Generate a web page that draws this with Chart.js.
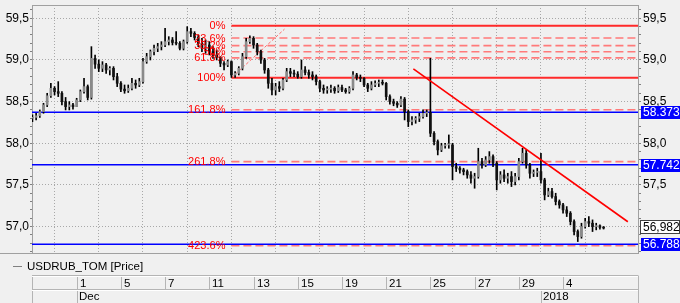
<!DOCTYPE html>
<html>
<head>
<meta charset="utf-8">
<title>USDRUB_TOM</title>
<script src="https://cdn.jsdelivr.net/npm/chart.js@4.4.1/dist/chart.umd.min.js"></script>
<style>
  html, body { margin: 0; padding: 0; background: #f0f0f0; }
  canvas { display: block; }
</style>
</head>
<body>
<canvas id="priceChart" width="680" height="303"></canvas>
<script>
// trading sessions on the chart, 29 Nov 2017 .. 5 Jan 2018 (6 bars each)
const sessions = ['29','30','1','4','5','6','7','8','11','12','13','14','15','18','19','20','21','22','25','26','27','28','29','3','4','5'];
const firstSession = -2; // 29 Nov, counted from 1 Dec
const barsPerSession = 6;

const opens = [
  58.30, 58.31, 58.33, 58.38, 58.46, 58.57,
  58.66, 58.62, 58.60, 58.50, 58.44, 58.46,
  58.44, 58.52, 58.62, 58.68, 58.55, 59.02,
  58.95, 58.90, 58.94, 58.88, 58.90, 58.80,
  58.72, 58.65, 58.63, 58.66, 58.72, 58.70,
  58.74, 58.98, 59.04, 59.10, 59.14, 59.16,
  59.18, 59.22, 59.24, 59.21, 59.20, 59.14,
  59.22, 59.34, 59.32, 59.27, 59.20, 59.14,
  59.18, 59.10, 59.06, 59.03, 58.96, 58.94,
  58.98, 58.82, 58.84, 58.90, 59.04, 59.22,
  59.26, 59.18, 59.10, 59.00, 58.88, 58.72,
  58.64, 58.68, 58.66, 58.76, 58.86, 58.84,
  58.83, 58.80, 58.88, 58.85, 58.82, 58.80,
  58.74, 58.66, 58.64, 58.65, 58.66, 58.63,
  58.67, 58.64, 58.62, 58.66, 58.82, 58.79,
  58.78, 58.70, 58.66, 58.70, 58.72, 58.73,
  58.72, 58.56, 58.50, 58.48, 58.46, 58.53,
  58.38, 58.26, 58.28, 58.30, 58.32, 58.36,
  58.37, 58.12, 58.02, 57.92, 57.97, 57.98,
  57.98, 57.72, 57.70, 57.68, 57.66, 57.62,
  57.58, 57.60, 57.78, 57.74, 57.80, 57.84,
  57.76, 57.56, 57.62, 57.58, 57.60, 57.54,
  57.60, 57.78, 57.88, 57.74, 57.64, 57.65,
  57.66, 57.56, 57.38, 57.42, 57.36, 57.30,
  57.26, 57.20, 57.16, 57.06, 56.94, 56.88,
  57.00, 57.06, 57.04, 57.00, 57.01, 56.99
];
const highs = [
  58.34, 58.36, 58.40, 58.48, 58.60, 58.72,
  58.68, 58.74, 58.62, 58.55, 58.50, 58.48,
  58.54, 58.64, 58.78, 58.70, 59.16, 59.06,
  59.00, 58.98, 58.96, 58.92, 58.92, 58.84,
  58.74, 58.70, 58.70, 58.78, 58.76, 58.78,
  59.02, 59.08, 59.12, 59.18, 59.20, 59.22,
  59.38, 59.28, 59.27, 59.34, 59.22, 59.24,
  59.40, 59.38, 59.34, 59.30, 59.26, 59.24,
  59.22, 59.16, 59.12, 59.04, 58.98, 59.00,
  58.99, 58.86, 58.92, 59.08, 59.26, 59.29,
  59.28, 59.20, 59.12, 59.02, 58.90, 58.78,
  58.72, 58.74, 58.78, 58.90, 58.90, 58.88,
  58.86, 59.00, 58.92, 58.88, 58.86, 58.82,
  58.76, 58.70, 58.68, 58.70, 58.68, 58.70,
  58.70, 58.66, 58.68, 58.86, 58.84, 58.82,
  58.79, 58.72, 58.74, 58.75, 58.76, 58.76,
  58.73, 58.58, 58.53, 58.50, 58.56, 58.55,
  58.40, 58.32, 58.32, 58.36, 58.40, 58.40,
  59.02, 58.14, 58.04, 58.00, 58.00, 58.10,
  58.00, 57.76, 57.72, 57.70, 57.68, 57.66,
  57.64, 57.94, 57.82, 57.84, 57.90, 57.86,
  57.78, 57.66, 57.68, 57.64, 57.66, 57.64,
  57.82, 57.94, 57.92, 57.76, 57.68, 57.70,
  57.88, 57.58, 57.46, 57.46, 57.40, 57.32,
  57.28, 57.24, 57.18, 57.08, 56.96, 57.04,
  57.10, 57.12, 57.08, 57.04, 57.02, 57.00
];
const lows = [
  58.26, 58.28, 58.31, 58.36, 58.44, 58.55,
  58.58, 58.56, 58.46, 58.40, 58.40, 58.41,
  58.44, 58.50, 58.60, 58.52, 58.53, 58.90,
  58.86, 58.86, 58.84, 58.82, 58.76, 58.68,
  58.62, 58.60, 58.61, 58.64, 58.66, 58.68,
  58.72, 58.96, 59.00, 59.06, 59.10, 59.12,
  59.16, 59.18, 59.18, 59.18, 59.12, 59.12,
  59.20, 59.28, 59.24, 59.16, 59.10, 59.08,
  59.06, 59.02, 59.00, 58.92, 58.88, 58.92,
  58.79, 58.79, 58.82, 58.88, 59.02, 59.20,
  59.14, 59.06, 58.96, 58.84, 58.66, 58.58,
  58.58, 58.62, 58.64, 58.74, 58.80, 58.80,
  58.78, 58.78, 58.82, 58.78, 58.76, 58.70,
  58.62, 58.60, 58.60, 58.61, 58.60, 58.61,
  58.62, 58.60, 58.60, 58.64, 58.76, 58.74,
  58.68, 58.62, 58.64, 58.68, 58.68, 58.70,
  58.52, 58.47, 58.45, 58.43, 58.44, 58.28,
  58.20, 58.22, 58.24, 58.26, 58.30, 58.32,
  58.08, 57.98, 57.86, 57.90, 57.94, 57.94,
  57.56, 57.66, 57.64, 57.62, 57.58, 57.52,
  57.46, 57.58, 57.70, 57.72, 57.76, 57.72,
  57.44, 57.52, 57.54, 57.52, 57.48, 57.50,
  57.56, 57.76, 57.70, 57.58, 57.60, 57.60,
  57.52, 57.32, 57.36, 57.34, 57.26, 57.22,
  57.16, 57.12, 57.02, 56.90, 56.82, 56.86,
  56.98, 57.00, 56.94, 56.96, 56.97, 56.97
];
const closes = [
  58.31, 58.33, 58.38, 58.46, 58.57, 58.66,
  58.62, 58.60, 58.50, 58.44, 58.46, 58.44,
  58.52, 58.62, 58.68, 58.55, 59.02, 58.95,
  58.90, 58.94, 58.88, 58.90, 58.80, 58.72,
  58.65, 58.63, 58.66, 58.72, 58.70, 58.74,
  58.98, 59.04, 59.10, 59.14, 59.16, 59.18,
  59.22, 59.24, 59.21, 59.20, 59.14, 59.22,
  59.34, 59.32, 59.27, 59.20, 59.14, 59.18,
  59.10, 59.06, 59.03, 58.96, 58.94, 58.98,
  58.82, 58.84, 58.90, 59.04, 59.22, 59.26,
  59.18, 59.10, 59.00, 58.88, 58.72, 58.64,
  58.68, 58.66, 58.76, 58.86, 58.84, 58.83,
  58.80, 58.88, 58.85, 58.82, 58.80, 58.74,
  58.66, 58.64, 58.65, 58.66, 58.63, 58.67,
  58.64, 58.62, 58.66, 58.82, 58.79, 58.78,
  58.70, 58.66, 58.70, 58.72, 58.73, 58.72,
  58.56, 58.50, 58.48, 58.46, 58.53, 58.38,
  58.26, 58.28, 58.30, 58.32, 58.36, 58.37,
  58.12, 58.02, 57.92, 57.97, 57.98, 57.98,
  57.72, 57.70, 57.68, 57.66, 57.62, 57.58,
  57.60, 57.78, 57.74, 57.80, 57.84, 57.76,
  57.56, 57.62, 57.58, 57.60, 57.54, 57.60,
  57.78, 57.88, 57.74, 57.64, 57.65, 57.66,
  57.56, 57.38, 57.42, 57.36, 57.30, 57.26,
  57.20, 57.16, 57.06, 56.94, 56.88, 57.00,
  57.06, 57.04, 57.00, 57.01, 56.99, 56.982
];

// date row: sessions with a label (index counted from 1 Dec) and the month row
const dateTicks = [0, 2, 4, 6, 8, 10, 12, 14, 16, 18, 20, 22];
const monthStarts = [0, 21];
const monthNames = ['Dec', '2018'];

// fibonacci retracement drawn from 12 Dec
const fibRatios = [0, 0.236, 0.382, 0.5, 0.618, 1, 1.618, 2.618, 4.236];
const fibNames = ['0%', '23.6%', '38.2%', '50%', '61.8%', '100%', '161.8%', '261.8%', '423.6%'];
const fibTop = 59.41;
const fibBottom = 58.787;
const fibFrom = 7;
const fibDiagonalX = [7, 9.4];
const fibDiagonalY = [58.787, 59.37];

// horizontal levels and the trend line
const levels = [58.373, 57.742, 56.788];
const levelNames = ['58.373', '57.742', '56.788'];
const lastPrice = 56.982;
const lastPriceName = '56,982';
const trendX = [15.23, 24.93];
const trendY = [58.894, 57.058];

const seriesName = 'USDRUB_TOM [Price]';

const X_MIN = -2.02, X_MAX = 25.39;
const Y_MIN = 56.6825, Y_MAX = 59.66;

Chart.defaults.font.family = "Arial, 'Liberation Sans', sans-serif";
Chart.defaults.font.size = 12;
Chart.defaults.color = '#000';

function barX(i) {
  return firstSession + i / barsPerSession;
}
function isMajor(v) {
  return Math.abs(v * 2 - Math.round(v * 2)) < 1e-6;
}
function fmtAxis(v) {
  return v.toFixed(1).replace('.', ',');
}
function fibLevel(r) {
  return fibTop - r * (fibTop - fibBottom);
}

const wickData = closes.map((c, i) => ({ x: barX(i), y: [lows[i], highs[i]] }));
const bodyData = closes.map((c, i) => ({ x: barX(i), y: [Math.min(opens[i], c), Math.max(opens[i], c)] }));
const bodyColors = closes.map((c, i) => c >= opens[i] ? '#8a8a8a' : '#111111');

const datasets = [];

// trend line on top
datasets.push({
  type: 'line', data: [{ x: trendX[0], y: trendY[0] }, { x: trendX[1], y: trendY[1] }],
  borderColor: '#ff0000', borderWidth: 1.6, pointRadius: 0, order: 0
});

datasets.push({
  type: 'bar', data: bodyData, backgroundColor: bodyColors,
  barThickness: 2, minBarLength: 1, grouped: false, order: 1
});
datasets.push({
  type: 'bar', data: wickData, backgroundColor: '#000',
  barThickness: 1, grouped: false, order: 2
});

// fib diagonal
datasets.push({
  type: 'line', data: [{ x: fibDiagonalX[0], y: fibDiagonalY[0] }, { x: fibDiagonalX[1], y: fibDiagonalY[1] }],
  borderColor: '#ff6a6a', borderWidth: 1, borderDash: [3, 2], pointRadius: 0, order: 3
});

levels.forEach(v => {
  datasets.push({
    type: 'line', data: [{ x: X_MIN, y: v }, { x: X_MAX, y: v }],
    borderColor: '#0000ff', borderWidth: 1.5, pointRadius: 0, order: 4
  });
});

fibRatios.forEach(r => {
  const solid = (r === 0 || r === 1);
  datasets.push({
    type: 'line', data: [{ x: fibFrom, y: fibLevel(r) }, { x: X_MAX, y: fibLevel(r) }],
    borderColor: solid ? '#ff2a2a' : '#ff7a7a', borderWidth: solid ? 2 : 1.6,
    borderDash: solid ? [] : [8, 4], pointRadius: 0, order: 5
  });
});

// minor ticks every 0.1 on the price axes
function priceTicks(scale) {
  const t = [];
  for (let k = 567; k <= 596; k++) t.push({ value: k / 10 });
  scale.ticks = t;
}

const decor = {
  id: 'decor',
  beforeDraw(chart) {
    const ctx = chart.ctx;
    ctx.save();
    ctx.fillStyle = '#f0f0f0';
    ctx.fillRect(0, 0, chart.width, chart.height);
    ctx.restore();
  },
  afterDatasetsDraw(chart) {
    const ctx = chart.ctx;
    const xs = chart.scales.x, ys = chart.scales.y;
    const right = xs.getPixelForValue(fibFrom) - 6;
    ctx.save();
    ctx.font = "11px Arial, 'Liberation Sans', sans-serif";
    ctx.fillStyle = '#ff0000';
    ctx.textAlign = 'right';
    ctx.textBaseline = 'middle';
    fibRatios.forEach((r, i) => {
      ctx.fillText(fibNames[i], right, ys.getPixelForValue(fibLevel(r)) + 0.5);
    });
    ctx.restore();
  },
  afterDraw(chart) {
    const ctx = chart.ctx;
    const a = chart.chartArea;
    const xs = chart.scales.x, ys = chart.scales.y;
    ctx.save();

    // frame
    ctx.strokeStyle = '#a0a0a0';
    ctx.lineWidth = 1;
    ctx.beginPath();
    ctx.moveTo(a.left, a.top + 0.5); ctx.lineTo(a.right, a.top + 0.5);
    ctx.moveTo(0, a.bottom + 0.5); ctx.lineTo(a.right + 1, a.bottom + 0.5);
    ctx.stroke();

    // legend line
    const ly = a.bottom + 13.5;
    ctx.strokeStyle = '#808080';
    ctx.beginPath();
    ctx.moveTo(13, ly); ctx.lineTo(22, ly);
    ctx.stroke();
    ctx.fillStyle = '#000';
    ctx.font = "11.5px Arial, 'Liberation Sans', sans-serif";
    ctx.textBaseline = 'middle';
    ctx.textAlign = 'left';
    ctx.fillText(seriesName, 27, ly);

    // date table
    const r1 = 275.5, r2 = 289.5, r3 = chart.height;
    ctx.strokeStyle = '#b4b4b4';
    ctx.beginPath();
    ctx.moveTo(a.left, r1); ctx.lineTo(a.right, r1);
    ctx.moveTo(a.left, r2); ctx.lineTo(a.right, r2);
    ctx.moveTo(a.left + 0.5, r1); ctx.lineTo(a.left + 0.5, r3);
    ctx.moveTo(a.right + 0.5, r1); ctx.lineTo(a.right + 0.5, r3);
    dateTicks.forEach(d => {
      const px = Math.round(xs.getPixelForValue(d)) + 0.5;
      ctx.moveTo(px, r1); ctx.lineTo(px, r2);
    });
    monthStarts.forEach(d => {
      const px = Math.round(xs.getPixelForValue(d)) + 0.5;
      ctx.moveTo(px, r2); ctx.lineTo(px, r3);
    });
    ctx.stroke();
    ctx.strokeStyle = '#ffffff';
    ctx.beginPath();
    ctx.moveTo(a.left, r1 + 1); ctx.lineTo(a.right, r1 + 1);
    ctx.moveTo(a.left, r2 + 1); ctx.lineTo(a.right, r2 + 1);
    ctx.stroke();

    ctx.fillStyle = '#000';
    dateTicks.forEach(d => {
      const px = Math.round(xs.getPixelForValue(d));
      ctx.fillText(sessions[d - firstSession], px + 3, (r1 + r2) / 2 + 1);
    });
    monthStarts.forEach((d, i) => {
      const px = Math.round(xs.getPixelForValue(d));
      ctx.fillText(monthNames[i], px + 2, (r2 + r3) / 2 + 1);
    });

    // price boxes on the right axis
    ctx.font = "12px Arial, 'Liberation Sans', sans-serif";
    levels.forEach((v, i) => {
      const py = Math.round(ys.getPixelForValue(v));
      ctx.fillStyle = '#0000ff';
      ctx.fillRect(a.right + 3, py - 6, chart.width - a.right - 3, 13);
      ctx.fillStyle = '#ffffff';
      ctx.fillText(levelNames[i], a.right + 5, py + 1);
    });
    const lp = Math.round(ys.getPixelForValue(lastPrice)) - 1;
    ctx.fillStyle = '#ffffff';
    ctx.fillRect(a.right + 2.5, lp - 6.5, chart.width - a.right - 3, 13);
    ctx.strokeStyle = '#404040';
    ctx.strokeRect(a.right + 2.5, lp - 6.5, chart.width - a.right - 3, 13);
    ctx.fillStyle = '#000';
    ctx.fillText(lastPriceName, a.right + 5, lp + 1);

    ctx.restore();
  }
};

const gridColor = '#a8a8a8';

new Chart(document.getElementById('priceChart'), {
  type: 'bar',
  data: { datasets: datasets },
  options: {
    responsive: false,
    animation: false,
    events: [],
    layout: { padding: { top: 5, left: 0, right: 0, bottom: 0 } },
    plugins: { legend: { display: false }, tooltip: { enabled: false } },
    scales: {
      x: {
        type: 'linear', min: X_MIN, max: X_MAX, offset: false,
        afterBuildTicks: s => { s.ticks = dateTicks.map(v => ({ value: v })); },
        afterFit: s => { s.height = 50; s.paddingLeft = 0; s.paddingRight = 0; },
        ticks: { display: false },
        grid: { color: gridColor, drawTicks: false },
        border: { display: false, dash: [1, 2] }
      },
      y: {
        type: 'linear', position: 'left', min: Y_MIN, max: Y_MAX,
        afterBuildTicks: priceTicks,
        afterFit: s => { s.width = 32; s.paddingTop = 0; s.paddingBottom = 0; },
        ticks: { autoSkip: false, padding: 1, callback: v => isMajor(v) ? fmtAxis(v) : '' },
        grid: {
          color: c => (c.tick && isMajor(c.tick.value)) ? gridColor : 'rgba(0,0,0,0)',
          tickColor: '#808080', tickLength: 2
        },
        border: { display: true, color: '#a0a0a0', dash: [1, 2] }
      },
      y2: {
        type: 'linear', position: 'right', min: Y_MIN, max: Y_MAX,
        afterBuildTicks: priceTicks,
        afterFit: s => { s.width = 42; s.paddingTop = 0; s.paddingBottom = 0; },
        ticks: { autoSkip: false, padding: 2, callback: v => isMajor(v) ? fmtAxis(v) : '' },
        grid: { drawOnChartArea: false, tickColor: '#808080', tickLength: 3 },
        border: { display: true, color: '#a0a0a0' }
      }
    }
  },
  plugins: [decor]
});
</script>
</body>
</html>
